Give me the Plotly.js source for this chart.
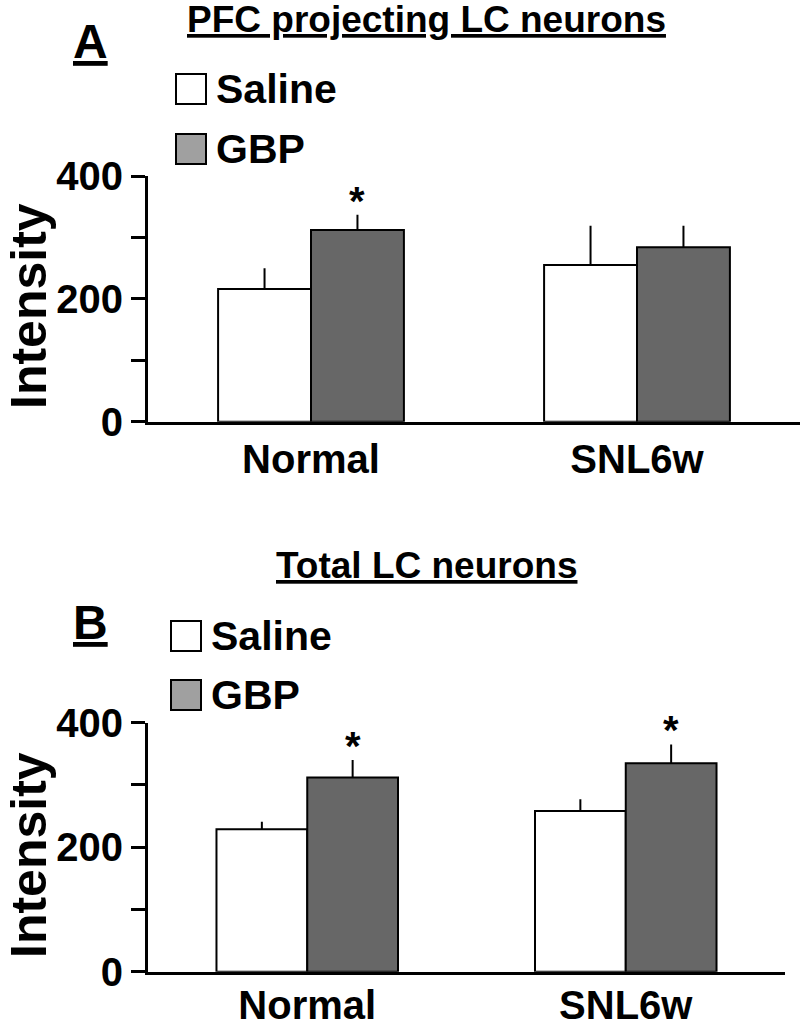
<!DOCTYPE html>
<html>
<head>
<meta charset="utf-8">
<script src="https://cdn.plot.ly/plotly-3.0.1.min.js"></script>
<style>
  html, body { margin: 0; padding: 0; background: #fff; }
  #chart { width: 800px; height: 1029px; }
</style>
</head>
<body>
<div id="chart"></div>
<script>
// groups on the x axis
const categories = ["Normal", "SNL6w"];
const treatments = ["Saline", "GBP"];
const yLabel = "Intensity";

// panel A: PFC projecting LC neurons (mean, SEM)
const pfcSaline = [216, 255];
const pfcSalineSem = [34, 64];
const pfcGbp = [312, 284];
const pfcGbpSem = [25, 35];
const pfcSig = ["*", ""];

// panel B: total LC neurons (mean, SEM)
const totalSaline = [229, 258];
const totalSalineSem = [12, 19];
const totalGbp = [312, 335];
const totalGbpSem = [28, 30];
const totalSig = ["*", "*"];

const yTickVals = [0, 100, 200, 300, 400];
const yTickText = ["0", "", "200", "", "400"];

const W = 800, H = 1029;
const FONT = "Liberation Sans, Arial, sans-serif";
const barColors = ["#ffffff", "#676767"];
const swatchColors = ["#ffffff", "#a0a0a0"];
const BARGAP = 0.43;

// pixel -> paper helpers
const px = (x) => x / W;
const py = (y) => 1 - y / H;

function barTrace(name, y, sem, color, xa, ya) {
  return {
    type: "bar",
    name: name,
    x: categories,
    y: y,
    xaxis: xa,
    yaxis: ya,
    marker: { color: color, line: { color: "#000", width: 2 } },
    error_y: {
      type: "data",
      symmetric: false,
      array: sem,
      arrayminus: sem.map(() => 0),
      color: "#000",
      thickness: 2,
      width: 0,
    },
    showlegend: false,
    hoverinfo: "skip",
  };
}

const data = [
  barTrace(treatments[0], pfcSaline, pfcSalineSem, barColors[0], "x", "y"),
  barTrace(treatments[1], pfcGbp, pfcGbpSem, barColors[1], "x", "y"),
  barTrace(treatments[0], totalSaline, totalSalineSem, barColors[0], "x2", "y2"),
  barTrace(treatments[1], totalGbp, totalGbpSem, barColors[1], "x2", "y2"),
];

function yAxis(domain) {
  return {
    domain: domain,
    range: [0, 400],
    tickvals: yTickVals,
    ticktext: yTickText,
    ticks: "outside",
    ticklen: 14,
    tickwidth: 3,
    tickcolor: "#000",
    showline: true,
    linewidth: 3,
    linecolor: "#000",
    showgrid: false,
    zeroline: false,
    tickfont: { family: FONT, size: 40, weight: "bold", color: "#000" },
  };
}

function xAxis(domain, anchor) {
  return {
    domain: domain,
    anchor: anchor,
    range: [-0.5, 1.5],
    showline: true,
    linewidth: 3,
    linecolor: "#000",
    ticks: "",
    showgrid: false,
    zeroline: false,
    tickfont: { family: FONT, size: 40, weight: "bold", color: "#000" },
  };
}

const bold = (size) => ({ family: FONT, size: size, weight: "bold", color: "#000" });

const annotations = [];
const shapes = [];

// asterisks above the GBP bars
const gbpOffset = (1 - BARGAP) / 4;
function addStars(sig, mean, sem, xref, yref) {
  sig.forEach((s, i) => {
    if (!s) return;
    annotations.push({
      xref: xref, yref: yref,
      x: i + gbpOffset, y: mean[i] + sem[i],
      text: s, showarrow: false,
      xanchor: "center", yanchor: "bottom", yshift: -10,
      font: bold(40),
    });
  });
}
addStars(pfcSig, pfcGbp, pfcGbpSem, "x", "y");
addStars(totalSig, totalGbp, totalGbpSem, "x2", "y2");

// panel titles, letters and rotated y titles
function addPanelHeader(title, titleY, letter, letterY, yTitleCenter) {
  annotations.push({
    xref: "paper", yref: "paper", x: px(427), y: py(titleY),
    text: "<u>" + title + "</u>", showarrow: false,
    xanchor: "center", yanchor: "middle", font: bold(37),
  });
  annotations.push({
    xref: "paper", yref: "paper", x: px(90), y: py(letterY),
    text: "<u>" + letter + "</u>", showarrow: false,
    xanchor: "center", yanchor: "middle", font: bold(48),
  });
  annotations.push({
    xref: "paper", yref: "paper", x: px(29), y: py(yTitleCenter),
    text: yLabel, showarrow: false, textangle: -90, borderpad: 0,
    xanchor: "center", yanchor: "middle", font: bold(50),
  });
}
addPanelHeader("PFC projecting LC neurons", 20, "A", 41, 306);
addPanelHeader("Total LC neurons", 565, "B", 622, 855);

// custom legends (big square swatches)
function addLegend(left, tops) {
  treatments.forEach((t, i) => {
    shapes.push({
      type: "rect", xref: "paper", yref: "paper",
      x0: px(left), x1: px(left + 30), y0: py(tops[i]), y1: py(tops[i] + 30),
      fillcolor: swatchColors[i], line: { color: "#000", width: 2 },
    });
    annotations.push({
      xref: "paper", yref: "paper", x: px(left + 38), y: py(tops[i] + 15),
      text: t, showarrow: false,
      xanchor: "left", yanchor: "middle", font: bold(41),
    });
  });
}
addLegend(176, [74, 134]);
addLegend(171, [621, 680]);

const layout = {
  width: W,
  height: H,
  margin: { l: 0, r: 0, t: 0, b: 0 },
  paper_bgcolor: "#fff",
  plot_bgcolor: "rgba(0,0,0,0)",
  barmode: "group",
  bargap: BARGAP,
  bargroupgap: 0,
  showlegend: false,
  xaxis: xAxis([px(148), 1], "y"),
  yaxis: yAxis([py(421.7), py(176)]),
  xaxis2: Object.assign(xAxis([px(148), px(785)], "y2"), { ticklabelstandoff: -4 }),
  yaxis2: Object.assign(yAxis([py(971.7), py(722.7)]), { anchor: "x2" }),
  annotations: annotations,
  shapes: shapes,
};

Plotly.newPlot("chart", data, layout, { staticPlot: true });
</script>
</body>
</html>
